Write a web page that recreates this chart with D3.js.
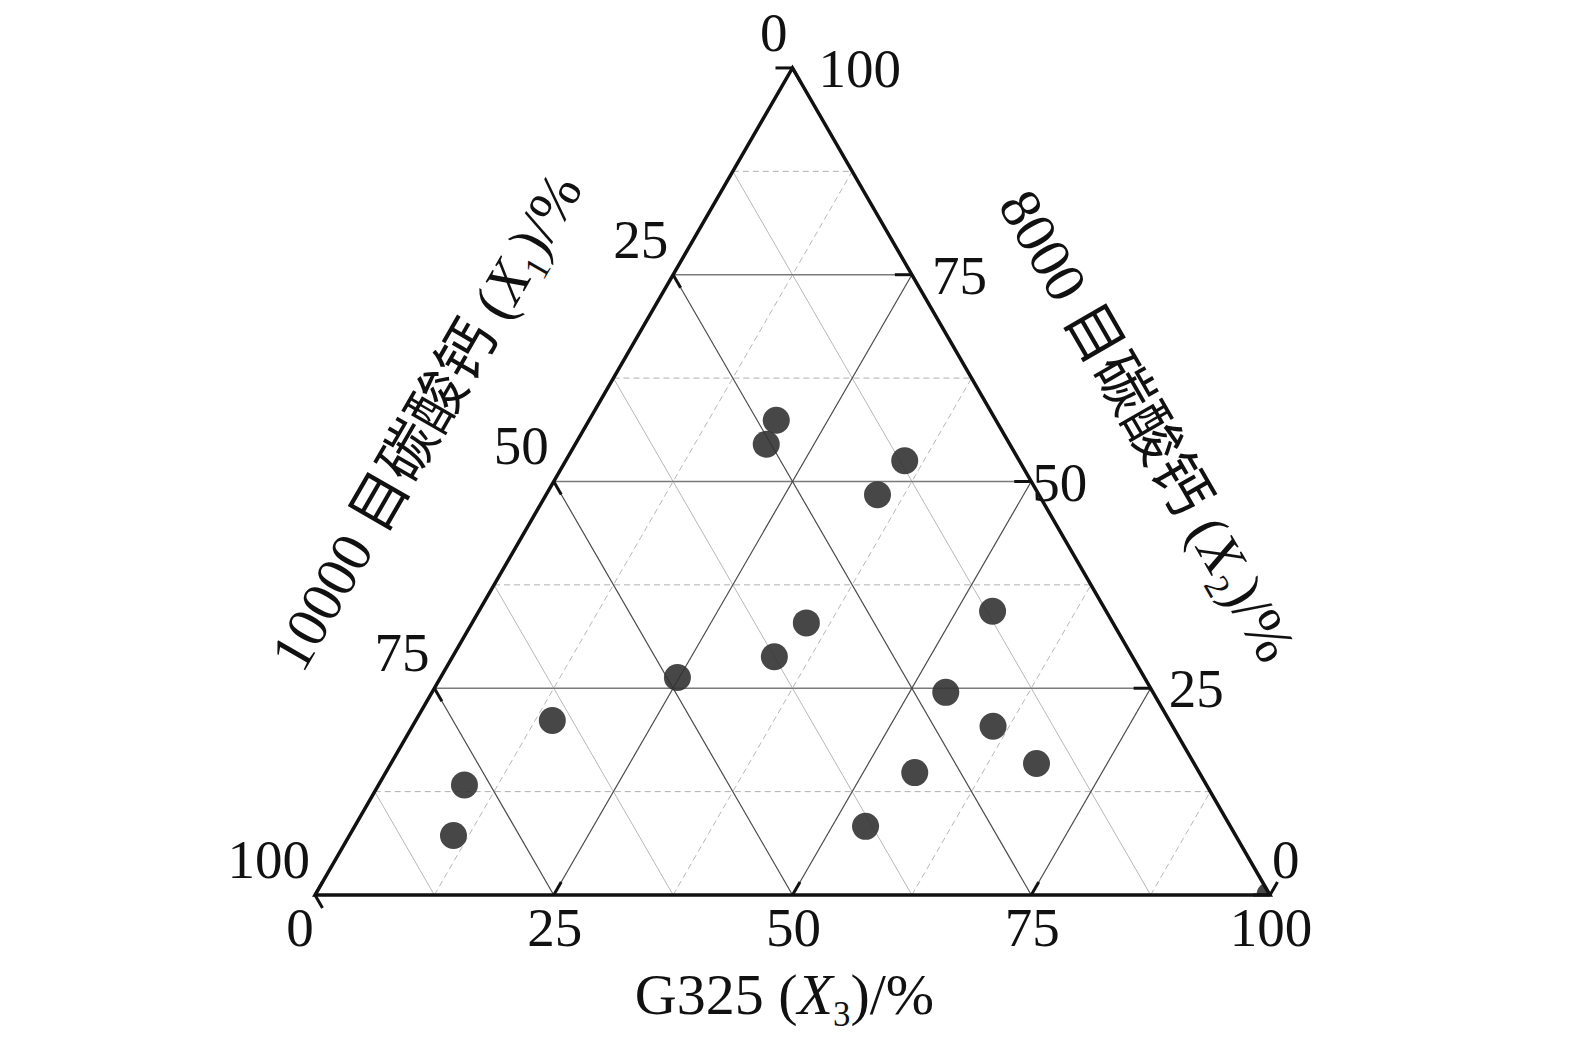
<!DOCTYPE html>
<html>
<head>
<meta charset="utf-8">
<script src="https://cdn.jsdelivr.net/npm/d3@7/dist/d3.min.js"></script>
<style>
  html, body { margin: 0; padding: 0; background: #fff; }
  svg { display: block; }
</style>
</head>
<body>
<svg id="chart" width="1575" height="1046"></svg>
<script>
// ---------------- data ----------------
// X1 = 10000目碳酸钙, X2 = 8000目碳酸钙, X3 = G325 (percent)
const pointX1 = [23.0, 25.5, 12.0, 16.9, 32.1, 37.5, 48.9, 21.7, 11.9, 18.8, 64.6, 77.7, 81.9, 16.5, 29.8, 38.2, 0];
const pointX2 = [57.4, 54.5, 52.5, 48.4, 32.9, 28.8, 26.3, 24.5, 34.3, 20.4, 21.1, 13.3, 7.2, 15.9, 14.8, 8.3, 0];
const pointX3 = [19.6, 20.0, 35.5, 34.7, 35.0, 33.7, 24.8, 53.8, 53.8, 60.8, 14.3, 9.0, 10.9, 67.6, 55.4, 53.5, 100];

const tickValues = [0, 25, 50, 75, 100];
const majorGrid = [25, 50, 75];
const minorGrid = [12.5, 37.5, 62.5, 87.5];

const titleX1 = { pre: "10000 目碳酸钙 (", sym: "X", sub: "1", post: ")/%" };
const titleX2 = { pre: "8000 目碳酸钙 (", sym: "X", sub: "2", post: ")/%" };
const titleX3 = { pre: "G325 (", sym: "X", sub: "3", post: ")/%" };

// ---------------- layout ----------------
const svg = d3.select("#chart");
const x0 = 315, side = 955, yBase = 895;
const H = side * Math.sqrt(3) / 2;

const sx = d3.scaleLinear().domain([0, 100]).range([x0, x0 + side]);
const sy = d3.scaleLinear().domain([0, 100]).range([yBase, yBase - H]);

function project(a, b, c) { // a = X1, b = X2, c = X3
  return [sx(c + b / 2), sy(b)];
}

const serif = "'Liberation Serif', 'Times New Roman', Times, serif";
const titleFont = "'Liberation Serif', 'Times New Roman', 'Noto Sans CJK SC', serif";

const defs = svg.append("defs");
const vA = project(100, 0, 0), vB = project(0, 100, 0), vC = project(0, 0, 100);
defs.append("clipPath").attr("id", "triClip")
  .append("path").attr("d", `M${vA}L${vB}L${vC}Z`);

const line = d3.line();
const gGrid = svg.append("g");

function drawFamily(values, fnEnds, style) {
  gGrid.selectAll(null).data(values).enter().append("path")
    .attr("d", v => line(fnEnds(v)))
    .attr("fill", "none")
    .attr("stroke", style.stroke)
    .attr("stroke-width", style.width)
    .attr("stroke-dasharray", style.dash || null);
}
const endsX2 = v => [project(100 - v, v, 0), project(0, v, 100 - v)];   // horizontal
const endsX1 = v => [project(v, 100 - v, 0), project(v, 0, 100 - v)];   // "\" direction
const endsX3 = v => [project(100 - v, 0, v), project(0, 100 - v, v)];   // "/" direction

// minor
drawFamily(minorGrid, endsX2, { stroke: "#b0b0b0", width: 1, dash: "6,4" });
drawFamily(minorGrid, endsX3, { stroke: "#b8b8b8", width: 1, dash: "6,4" });
drawFamily(minorGrid, endsX1, { stroke: "#b8b8b8", width: 1 });
// major
drawFamily(majorGrid, endsX2, { stroke: "#7a7a7a", width: 1.6 });
drawFamily(majorGrid, endsX1, { stroke: "#4a4a4a", width: 1.2 });
drawFamily(majorGrid, endsX3, { stroke: "#4a4a4a", width: 1.2 });

// points
const pts = pointX1.map((a, i) => ({ a, b: pointX2[i], c: pointX3[i] }));
svg.append("g").attr("clip-path", "url(#triClip)")
  .selectAll("circle").data(pts).enter().append("circle")
  .attr("cx", d => project(d.a, d.b, d.c)[0])
  .attr("cy", d => project(d.a, d.b, d.c)[1])
  .attr("r", 13.5)
  .attr("fill", "#333")
  .attr("fill-opacity", 0.9);

// outline
svg.append("path").attr("d", `M${vA}L${vB}L${vC}Z`)
  .attr("fill", "none").attr("stroke", "#111").attr("stroke-width", 3.5)
  .attr("stroke-linejoin", "miter");

// ticks
const gT = svg.append("g").attr("stroke", "#111").attr("stroke-width", 3).attr("stroke-linecap", "butt");
const tl = 15;
tickValues.forEach(v => {
  const p1 = project(v, 100 - v, 0);
  gT.append("line").attr("x1", p1[0]).attr("y1", p1[1])
    .attr("x2", p1[0] + tl * 0.5).attr("y2", p1[1] + tl * Math.sqrt(3) / 2);
  const p2 = project(0, v, 100 - v);
  gT.append("line").attr("x1", p2[0]).attr("y1", p2[1])
    .attr("x2", p2[0] - 17).attr("y2", p2[1]);
  const p3 = project(100 - v, 0, v);
  gT.append("line").attr("x1", p3[0]).attr("y1", p3[1])
    .attr("x2", p3[0] + tl * 0.5).attr("y2", p3[1] - tl * Math.sqrt(3) / 2);
});

// tick labels
const fs = 55;
const gL = svg.append("g").attr("font-family", serif).attr("font-size", fs).attr("fill", "#111");
const nudgeX2 = { 100: [26, 0.35], 75: [20, 0.35], 50: [1, 0.35], 25: [18, 0.35], 0: [2, -0.31] };
tickValues.forEach(v => {
  const p1 = project(v, 100 - v, 0);
  gL.append("text").attr("x", p1[0] - 5).attr("y", p1[1] - 17)
    .attr("text-anchor", "end").text(String(v));
  const p2 = project(0, v, 100 - v);
  const n = nudgeX2[v];
  gL.append("text").attr("x", p2[0] + n[0]).attr("y", p2[1] + n[1] * fs)
    .attr("text-anchor", "start").text(String(v));
  const p3 = project(100 - v, 0, v);
  gL.append("text").attr("x", p3[0] + (v === 0 ? -15 : 1)).attr("y", 946)
    .attr("text-anchor", "middle").text(String(v));
});

// titles
const tfs = 58;
function title(t, cx, cy, angle) {
  const txt = svg.append("text")
    .attr("font-family", titleFont).attr("font-size", tfs).attr("fill", "#111")
    .attr("text-anchor", "middle")
    .attr("transform", `translate(${cx},${cy}) rotate(${angle})`)
    .attr("x", 0).attr("y", tfs * 0.33);
  txt.append("tspan").text(t.pre);
  txt.append("tspan").attr("font-style", "italic").text(t.sym);
  const subSize = tfs * 0.6;
  txt.append("tspan").attr("font-size", subSize).attr("dy", tfs * 0.2).text(t.sub);
  txt.append("tspan").attr("dy", -tfs * 0.2).text(t.post);
}
const s3 = Math.sqrt(3) / 2;
{
  const m = project(50, 50, 0);
  const dist = 140, along = -12;
  const cx = m[0] - s3 * dist + 0.5 * along;
  const cy = m[1] - 0.5 * dist - s3 * along;
  title(titleX1, cx, cy, -60);
}
{
  const m = project(0, 50, 50);
  const dist = 128, along = 10;
  const cx = m[0] + s3 * dist + 0.5 * along;
  const cy = m[1] - 0.5 * dist + s3 * along;
  title(titleX2, cx, cy, 60);
}
{
  const m = project(50, 0, 50);
  title(titleX3, m[0] - 8, 1014 - tfs * 0.33, 0);
}
</script>
</body>
</html>
